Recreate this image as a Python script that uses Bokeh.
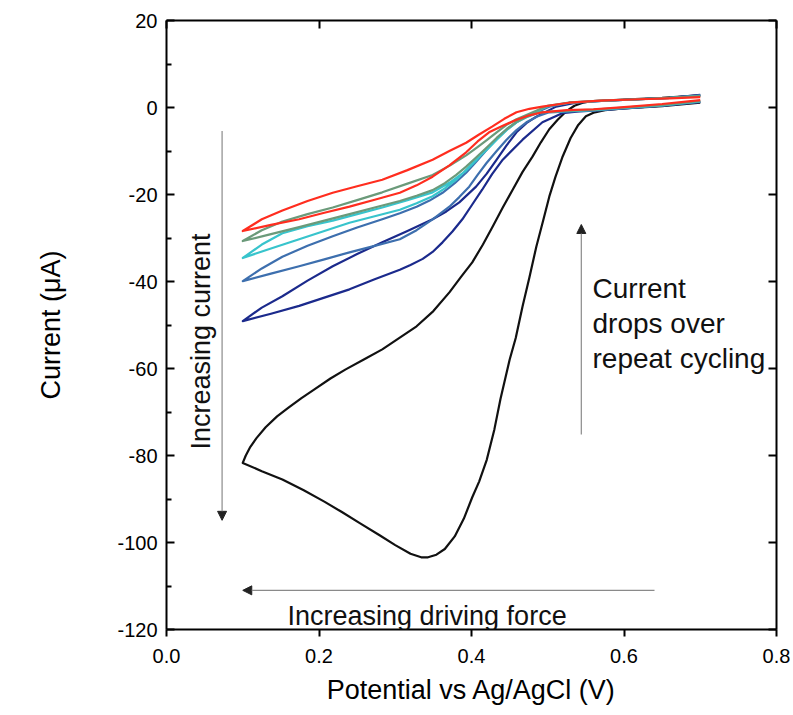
from bokeh.plotting import figure
from bokeh.models import (Range1d, LinearAxis, FixedTicker, PrintfTickFormatter,
                          Arrow, NormalHead, Label, ColumnDataSource)
from bokeh.embed import file_html
from bokeh.resources import INLINE

# ---------------- data ----------------
# each loop: cathodic sweep 0.7 -> 0.1, then anodic sweep 0.1 -> 0.7
black_x = [0.700, 0.650, 0.600, 0.575, 0.560, 0.550, 0.540, 0.530, 0.519, 0.510, 0.502, 0.494,
           0.485, 0.476, 0.467, 0.458, 0.450, 0.438, 0.430, 0.420, 0.410, 0.401, 0.390, 0.378,
           0.365, 0.354, 0.343, 0.334, 0.320, 0.300, 0.280, 0.254, 0.230, 0.207, 0.180, 0.152,
           0.125, 0.100,
           0.104, 0.110, 0.118, 0.130, 0.145, 0.160, 0.177, 0.194, 0.215, 0.235, 0.260, 0.283,
           0.305, 0.328, 0.350, 0.371, 0.386, 0.401, 0.415, 0.428, 0.441, 0.454, 0.467, 0.480,
           0.491, 0.502, 0.513, 0.524, 0.535, 0.546, 0.560, 0.600, 0.650, 0.700]
black_y = [1.1, 0.3, -0.2, -0.6, -1.2, -2.0, -4.0, -7.0, -11.5, -16.0, -20.5, -26.0,
           -32.0, -39.0, -45.7, -53.0, -58.0, -67.0, -74.0, -81.0, -86.0, -89.6, -94.5, -98.6,
           -101.5, -102.8, -103.4, -103.4, -102.6, -100.6, -98.4, -95.6, -93.0, -90.6, -88.0, -85.5,
           -83.6, -81.7,
           -80.0, -78.0, -76.0, -73.5, -71.0, -69.0, -66.8, -64.8, -62.3, -60.2, -57.8, -55.6,
           -53.0, -50.3, -46.8, -42.5, -39.0, -35.6, -31.5, -27.3, -23.0, -18.9, -14.8, -11.3,
           -8.0, -5.0, -2.8, -0.9, 0.4, 1.1, 1.5, 1.8, 2.2, 2.8]

navy_x = [0.700, 0.650, 0.600, 0.560, 0.541, 0.519, 0.493, 0.467, 0.441, 0.427, 0.414, 0.401,
          0.388, 0.375, 0.362, 0.349, 0.336, 0.320, 0.306, 0.273, 0.240, 0.207, 0.174, 0.137, 0.100,
          0.125, 0.152, 0.185, 0.218, 0.250, 0.283, 0.316, 0.349, 0.367, 0.384, 0.406, 0.420,
          0.433, 0.446, 0.459, 0.472, 0.485, 0.511, 0.537, 0.570, 0.620, 0.660, 0.700]
navy_y = [1.3, 0.4, -0.2, -0.7, -0.9, -1.3, -3.4, -7.4, -12.0, -15.3, -18.9, -22.3,
          -25.7, -28.5, -31.0, -33.2, -34.8, -36.2, -37.3, -39.5, -41.8, -43.7, -45.6, -47.4, -49.1,
          -46.0, -43.4, -39.8, -36.5, -33.7, -31.0, -28.4, -25.7, -23.9, -21.8, -18.2, -15.2,
          -12.0, -8.7, -5.7, -3.6, -2.1, 0.2, 1.1, 1.5, 1.9, 2.2, 2.9]

steel_x = [0.700, 0.650, 0.600, 0.560, 0.528, 0.502, 0.487, 0.472, 0.459, 0.446, 0.433, 0.420,
           0.408, 0.397, 0.384, 0.371, 0.349, 0.328, 0.306, 0.273, 0.240, 0.207, 0.174, 0.137, 0.100,
           0.125, 0.152, 0.185, 0.218, 0.250, 0.283, 0.306, 0.328, 0.345, 0.362, 0.378, 0.393,
           0.407, 0.420, 0.433, 0.446, 0.459, 0.472, 0.502, 0.528, 0.570, 0.620, 0.660, 0.700]
steel_y = [1.3, 0.4, -0.2, -0.7, -0.9, -1.1, -2.0, -3.4, -5.2, -7.4, -10.0, -12.7,
           -15.5, -18.2, -20.6, -22.8, -25.7, -28.2, -30.3, -31.8, -33.3, -34.9, -36.5, -38.2, -39.9,
           -37.0, -34.3, -31.8, -29.6, -27.6, -25.7, -24.3, -22.8, -21.4, -19.6, -17.4, -15.0,
           -12.3, -9.7, -7.3, -5.1, -3.4, -2.1, 0.2, 1.1, 1.5, 1.9, 2.2, 2.8]

cyan_x = [0.700, 0.650, 0.600, 0.560, 0.520, 0.489, 0.474, 0.459, 0.446, 0.433, 0.420, 0.406,
          0.393, 0.380, 0.365, 0.349, 0.328, 0.306, 0.273, 0.240, 0.207, 0.174, 0.137, 0.100,
          0.125, 0.152, 0.185, 0.218, 0.250, 0.283, 0.316, 0.349, 0.372, 0.393, 0.407, 0.420,
          0.433, 0.446, 0.459, 0.472, 0.500, 0.530, 0.570, 0.620, 0.660, 0.700]
cyan_y = [1.4, 0.5, -0.1, -0.6, -0.9, -1.1, -2.1, -3.4, -5.2, -7.4, -9.7, -12.0,
          -14.3, -16.6, -18.6, -20.4, -22.0, -23.5, -25.0, -26.5, -28.4, -30.3, -32.4, -34.6,
          -31.5, -28.9, -27.3, -26.0, -24.5, -23.0, -21.3, -19.5, -17.2, -14.5, -12.0, -9.5,
          -7.1, -5.0, -3.3, -2.0, 0.3, 1.1, 1.5, 1.9, 2.2, 2.7]

green_x = [0.700, 0.650, 0.600, 0.560, 0.520, 0.489, 0.474, 0.459, 0.446, 0.433, 0.420, 0.406,
           0.393, 0.380, 0.365, 0.349, 0.328, 0.306, 0.273, 0.240, 0.207, 0.174, 0.137, 0.100,
           0.125, 0.152, 0.185, 0.218, 0.250, 0.283, 0.316, 0.349, 0.372, 0.393, 0.407, 0.420,
           0.433, 0.446, 0.459, 0.472, 0.500, 0.530, 0.570, 0.620, 0.660, 0.700]
green_y = [1.5, 0.6, 0.0, -0.5, -0.8, -1.1, -2.0, -3.3, -5.0, -7.0, -9.2, -11.5,
           -13.6, -15.5, -17.4, -19.0, -20.3, -21.5, -23.0, -24.5, -26.0, -27.5, -29.1, -30.7,
           -28.2, -26.2, -24.5, -23.0, -21.3, -19.5, -17.5, -15.5, -13.3, -11.0, -9.2, -7.5,
           -5.7, -4.0, -2.7, -1.7, 0.4, 1.2, 1.6, 1.9, 2.2, 2.6]

red_x = [0.700, 0.650, 0.600, 0.560, 0.525, 0.493, 0.476, 0.459, 0.441, 0.423, 0.408, 0.393,
         0.371, 0.349, 0.328, 0.306, 0.273, 0.240, 0.207, 0.174, 0.137, 0.100,
         0.125, 0.152, 0.185, 0.218, 0.250, 0.283, 0.316, 0.349, 0.371, 0.393, 0.410, 0.427,
         0.443, 0.459, 0.476, 0.493, 0.528, 0.570, 0.620, 0.660, 0.700]
red_y = [1.7, 0.8, 0.1, -0.4, -0.6, -1.1, -1.8, -2.8, -4.2, -5.7, -7.8, -10.3,
         -13.3, -15.9, -17.9, -19.6, -21.2, -22.8, -24.2, -25.7, -27.0, -28.4,
         -25.7, -23.7, -21.5, -19.6, -18.1, -16.6, -14.4, -12.0, -10.0, -8.1, -6.2, -4.4,
         -2.6, -1.1, -0.3, 0.2, 1.1, 1.6, 1.9, 2.1, 2.4]

series_x = [black_x, navy_x, steel_x, cyan_x, green_x, red_x]
series_y = [black_y, navy_y, steel_y, cyan_y, green_y, red_y]
series_colors = ["#111111", "#1b2a8c", "#3d6fae", "#38c4cc", "#6b9a7a", "#ff2d1f"]

x_ticks = [0.0, 0.2, 0.4, 0.6, 0.8]
y_ticks = [-120, -100, -80, -60, -40, -20, 0, 20]
y_minor = [-110, -90, -70, -50, -30, -10, 10]

FONT = "Liberation Sans"

# ---------------- figure ----------------
p = figure(width=790, height=712, output_backend="svg", toolbar_location=None,
           x_range=Range1d(0, 0.8), y_range=Range1d(-120, 20),
           min_border_left=166, min_border_right=14, min_border_top=20, min_border_bottom=83,
           x_axis_label="Potential vs Ag/AgCl (V)", y_axis_label="Current (\u03bcA)")
p.grid.visible = False
p.outline_line_color = None
p.background_fill_color = "white"
p.border_fill_color = "white"

for xs, ys, c in zip(series_x, series_y, series_colors):
    src = ColumnDataSource(dict(x=xs, y=ys))
    p.line("x", "y", source=src, line_color=c, line_width=2.2, line_join="round")

# bottom axis
xa = p.xaxis[0]
xa.ticker = FixedTicker(ticks=x_ticks)
xa.formatter = PrintfTickFormatter(format="%.1f")
xa.major_tick_out = 7
xa.major_tick_in = 0
xa.minor_tick_out = 0
xa.minor_tick_in = 0
xa.major_label_standoff = 12
xa.axis_label_standoff = 9

# left axis
ya = p.yaxis[0]
ya.ticker = FixedTicker(ticks=y_ticks, minor_ticks=y_minor)
ya.formatter = PrintfTickFormatter(format="%d")
ya.major_tick_out = 0
ya.major_tick_in = 8
ya.minor_tick_out = 0
ya.minor_tick_in = 5
ya.major_label_standoff = 9
ya.axis_label_standoff = 48

for ax in (xa, ya):
    ax.axis_line_width = 2
    ax.major_tick_line_width = 2
    ax.minor_tick_line_width = 2
    ax.axis_line_color = "black"
    ax.major_tick_line_color = "black"
    ax.minor_tick_line_color = "black"
    ax.major_label_text_font = FONT
    ax.major_label_text_font_size = "20px"
    ax.major_label_text_color = "black"
    ax.axis_label_text_font = FONT
    ax.axis_label_text_font_size = "27px"
    ax.axis_label_text_font_style = "normal"
    ax.axis_label_text_color = "black"

# top and right frame axes (ticks inward, no labels)
for loc, ticks in (("above", x_ticks), ("right", y_ticks)):
    ax = LinearAxis(ticker=FixedTicker(ticks=ticks), major_tick_in=8, major_tick_out=0,
                    minor_tick_in=0, minor_tick_out=0, major_label_text_font_size="1px",
                    major_label_text_color=None, major_label_standoff=0,
                    axis_line_width=2, major_tick_line_width=2)
    p.add_layout(ax, loc)

# ---------------- annotations ----------------
def arrow(x0, y0, x1, y1):
    p.add_layout(Arrow(x_start=x0, y_start=y0, x_end=x1, y_end=y1,
                       line_color="#8a8a8a", line_width=1.2,
                       end=NormalHead(size=9, fill_color="#222222", line_color="#222222",
                                      line_width=1)))

arrow(0.0729, -5.4, 0.0729, -94.9)
arrow(0.544, -75.2, 0.544, -26.9)
arrow(0.640, -111.0, 0.100, -111.0)

p.add_layout(Label(x=0.0446, y=-53.8, text="Increasing current", angle=90, angle_units="deg",
                   text_align="center", text_baseline="middle", text_font=FONT,
                   text_font_size="27px", text_color="#111111"))
p.add_layout(Label(x=0.1587, y=-117.0, text="Increasing driving force",
                   text_align="left", text_baseline="alphabetic", text_font=FONT,
                   text_font_size="27px", text_color="#111111"))
for txt, yy in (("Current", -41.6), ("drops over", -49.7), ("repeat cycling", -57.7)):
    p.add_layout(Label(x=0.5587, y=yy, text=txt, text_align="left", text_baseline="alphabetic",
                       text_font=FONT, text_font_size="28px", text_color="#111111"))

open("out.html", "w").write(file_html(p, INLINE))
